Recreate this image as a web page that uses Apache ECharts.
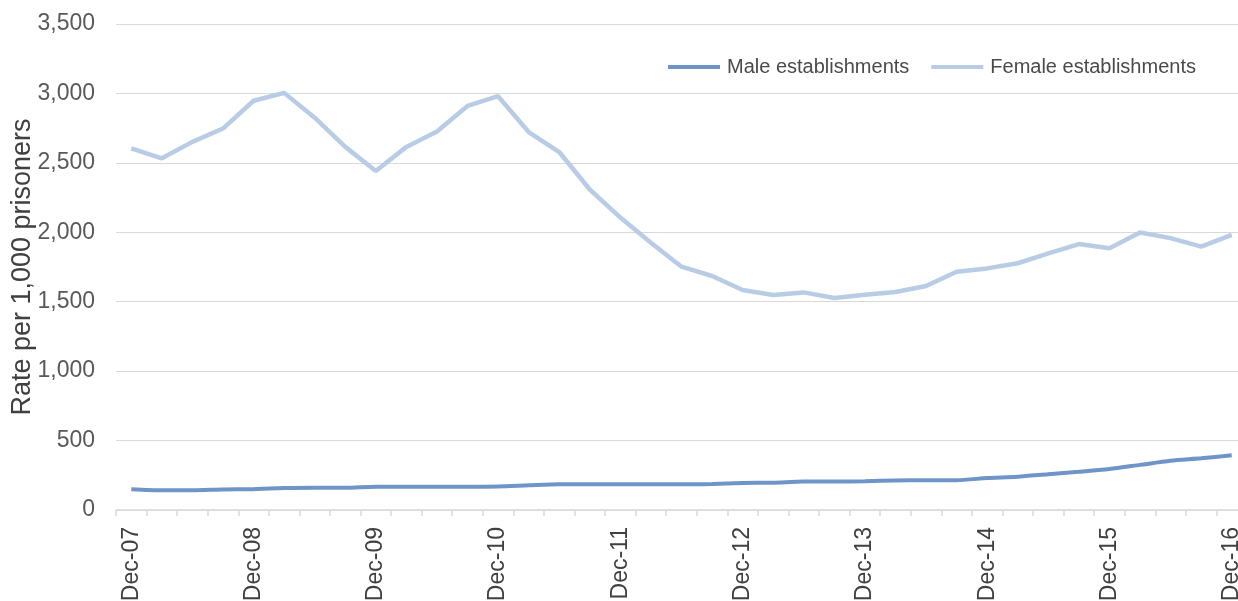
<!DOCTYPE html>
<html>
<head>
<meta charset="utf-8">
<script src="https://cdn.jsdelivr.net/npm/echarts@6/dist/echarts.min.js"></script>
<style>html,body{margin:0;padding:0;background:#fff;overflow:hidden}#c{width:1238px;height:601px}</style>
</head>
<body>
<div id="c"></div>
<script>
const years = ['07','08','09','10','11','12','13','14','15','16'];
const quarterNames = ['Dec','Mar','Jun','Sep'];
const categories = [];
for (let y = 0; y < years.length; y++) {
  for (let q = 0; q < 4; q++) {
    if (y === years.length - 1 && q > 0) break;
    const yy = q === 0 ? years[y] : years[y + 1];
    categories.push(quarterNames[q] + '-' + yy);
  }
}
const maleValues = [150,142,142,148,150,158,160,160,168,168,168,168,170,178,185,185,185,185,185,188,195,197,205,205,207,213,215,215,230,240,258,275,295,325,355,372,394];
const femaleValues = [2605,2533,2651,2747,2947,3004,2825,2615,2442,2615,2726,2910,2980,2722,2578,2308,2106,1925,1752,1685,1584,1548,1567,1527,1550,1570,1613,1716,1740,1777,1848,1915,1885,1998,1958,1897,1982];
const yTicks = [0,500,1000,1500,2000,2500,3000,3500];

const chart = echarts.init(document.getElementById('c'));
const fontFam = '"Liberation Sans", Arial, sans-serif';
chart.setOption({
  animation: false,
  grid: { left: 116, right: -9, top: 24, bottom: 91, containLabel: false, outerBoundsMode: 'none' },
  legend: {
    left: 663, top: 52, itemGap: 22, itemWidth: 52, itemHeight: 4,
    textStyle: { fontFamily: fontFam, fontSize: 20, color: '#4a4a4a', padding: [0,0,0,2] },
    data: [
      { name: 'Male establishments', icon: 'rect' },
      { name: 'Female establishments', icon: 'rect' }
    ]
  },
  xAxis: {
    type: 'category',
    data: categories,
    boundaryGap: true,
    axisLine: { lineStyle: { color: '#d9d9d9', width: 1.5 } },
    axisTick: { show: true, interval: 0, length: 6, lineStyle: { color: '#d9d9d9', width: 1.5 } },
    axisLabel: { interval: 3, rotate: 90, fontFamily: fontFam, fontSize: 23, color: '#404040', margin: 17 },
    splitLine: { show: false }
  },
  yAxis: {
    type: 'value', min: 0, max: 3500, interval: 500,
    name: 'Rate per 1,000 prisoners', nameLocation: 'middle', nameGap: 80, nameRotate: 90,
    nameMoveOverlap: false,
    nameTextStyle: { fontFamily: fontFam, fontSize: 27, color: '#404040' },
    axisLine: { show: false }, axisTick: { show: false },
    axisLabel: { fontFamily: fontFam, fontSize: 23, color: '#595959', margin: 21,
      formatter: v => yTicks.includes(v) ? v.toLocaleString('en-US') : '' },
    splitLine: { lineStyle: { color: '#d9d9d9', width: 1.2 } }
  },
  series: [
    { name: 'Male establishments', type: 'line', data: maleValues, showSymbol: false, smooth: 0.25,
      lineStyle: { color: '#6f95c8', width: 4 }, itemStyle: { color: '#6f95c8' } },
    { name: 'Female establishments', type: 'line', data: femaleValues, showSymbol: false,
      lineStyle: { color: '#b9cce5', width: 4.5 }, itemStyle: { color: '#b9cce5' } }
  ]
});
</script>
</body>
</html>
